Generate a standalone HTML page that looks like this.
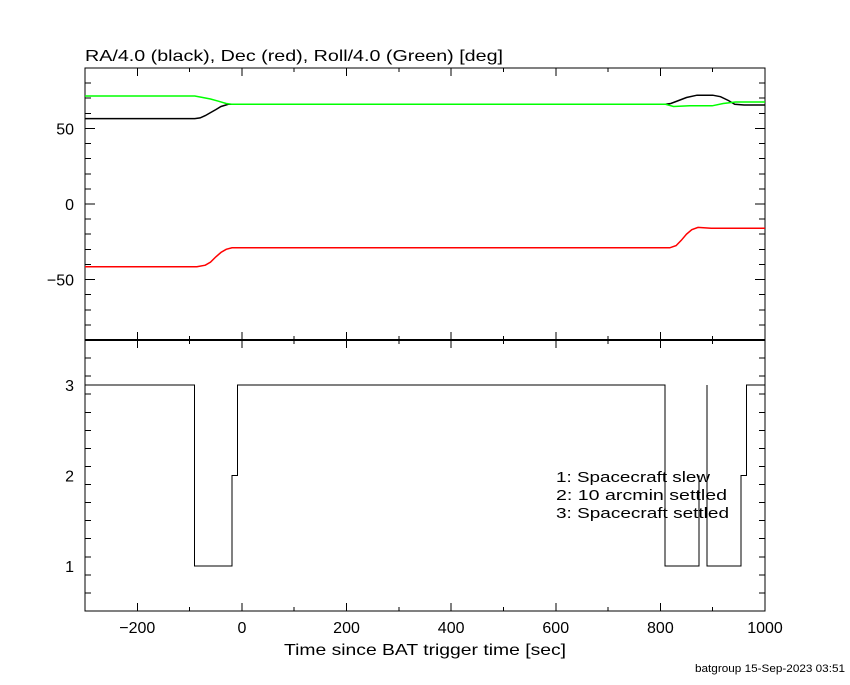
<!DOCTYPE html>
<html><head><meta charset="utf-8"><style>
body{margin:0;background:#fff;}
svg text{font-family:"Liberation Sans",sans-serif;fill:#000;}
</style></head><body>
<svg id="c" width="850" height="680" xmlns="http://www.w3.org/2000/svg">
<text x="85" y="61" font-size="16" textLength="418" lengthAdjust="spacingAndGlyphs">RA/4.0 (black), Dec (red), Roll/4.0 (Green) [deg]</text>
<text x="284" y="655" font-size="16" textLength="282" lengthAdjust="spacingAndGlyphs">Time since BAT trigger time [sec]</text>
<text x="695" y="672" font-size="11" textLength="150" lengthAdjust="spacingAndGlyphs">batgroup 15-Sep-2023 03:51</text>
<g font-size="15">
<text x="556" y="482" textLength="154" lengthAdjust="spacingAndGlyphs">1: Spacecraft slew</text>
<text x="556" y="500" textLength="171" lengthAdjust="spacingAndGlyphs">2: 10 arcmin settled</text>
<text x="556" y="518" textLength="173" lengthAdjust="spacingAndGlyphs">3: Spacecraft settled</text>
</g>
</svg>
<script>
const raT=[-300,-90,-80,-70,-60,-50,-40,-26,810,820,835,850,870,900,915,930,942,960,1000];
const raV=[56.5,56.5,57,58.5,60.5,62.5,64.5,66,66,66.5,68.5,70.5,72,72,71,68.5,66,65.5,65.5];
const rollT=[-300,-90,-75,-60,-45,-30,-20,810,825,856,899,920,944,1000];
const rollV=[71.5,71.5,70.5,69.5,68,66.5,66,66,64.5,65,65,66.5,67.5,67.5];
const decT=[-300,-86,-70,-60,-50,-40,-30,-19,818,830,840,850,860,872,897,1000];
const decV=[-41.5,-41.5,-40.5,-38.5,-35,-32,-30,-29,-29,-27.5,-24,-20,-17,-15.5,-16,-16];
const stT=[-300,-91,-91,-19,-19,-8,-8,809,809,874,874,null,889,889,954,954,965,965,1000];
const stV=[3,3,1,1,2,2,3,3,1,1,2,null,3,1,1,2,2,3,3];
const xTicks=[-200,0,200,400,600,800,1000];
const yTopTicks=[-50,0,50];
const yBotTicks=[1,2,3];
const NS='http://www.w3.org/2000/svg';
const svg=document.getElementById('c');
const L=85,R=765,T1=68,B1=340,T2=340,B2=611;
const X=v=>L+(v+300)/1300*(R-L);
const Y1=v=>T1+(90-v)/180*(B1-T1);
const Y2=v=>T2+(3.5-v)/3*(B2-T2);
function el(tag,attrs){const e=document.createElementNS(NS,tag);for(const k in attrs)e.setAttribute(k,attrs[k]);svg.appendChild(e);return e;}
function line(x1,y1,x2,y2){return el('line',{x1,y1,x2,y2,stroke:'#000','stroke-width':1,'shape-rendering':'crispEdges'});}
const f1=el('rect',{x:L,y:T1,width:R-L,height:B1-T1,fill:'none',stroke:'#000','stroke-width':1,'shape-rendering':'crispEdges'});


const f2=el('rect',{x:L,y:T2,width:R-L,height:B2-T2,fill:'none',stroke:'#000','stroke-width':1,'shape-rendering':'crispEdges'});


const sep=el('line',{x1:L,y1:340,x2:R,y2:340,stroke:'#000','stroke-width':2});


for(let v=-300;v<=1000;v+=100){
  const major=v%200===0;const len=major?8:4;const x=X(v);
  line(x,T1,x,T1+len);line(x,B1,x,B1-len);line(x,T2,x,T2+len);line(x,B2,x,B2-len);
}
xTicks.forEach(v=>{
  const t=el('text',{x:X(v),y:633,'font-size':16,'text-anchor':'middle'});
  t.textContent=(v<0?'\u2212':'')+Math.abs(v);
  
  
});
for(let v=-90;v<=90;v+=10){const y=Y1(v);const len=v%50===0?10:6;line(L,y,L+len,y);line(R,y,R-len,y);}
yTopTicks.forEach(v=>{
  const t=el('text',{x:74,y:Y1(v)+6,'font-size':16,'text-anchor':'end'});
  t.textContent=(v<0?'\u2212':'')+Math.abs(v);
  
  
});
for(let i=0;i<=15;i++){const v=0.5+i*0.2;if(v>3.5)break;const y=Y2(v);const len=Math.abs(v-Math.round(v))<1e-6?10:6;line(L,y,L+len,y);line(R,y,R-len,y);}
yBotTicks.forEach(v=>{
  const t=el('text',{x:74,y:Y2(v)+6,'font-size':16,'text-anchor':'end'});
  t.textContent=v;
  
  
});
function path(ts,vs,Y){let d='',pen=false;for(let i=0;i<ts.length;i++){if(ts[i]===null){pen=false;continue;}d+=(pen?'L':'M')+X(ts[i]).toFixed(1)+','+Y(vs[i]).toFixed(1);pen=true;}return d;}
const pr=el('path',{d:path(raT,raV,Y1),fill:'none',stroke:'#000','stroke-width':1.5});


const pg=el('path',{d:path(rollT,rollV,Y1),fill:'none',stroke:'#00ff00','stroke-width':1.5});


const pd=el('path',{d:path(decT,decV,Y1),fill:'none',stroke:'#ff0000','stroke-width':1.5});


const ps=el('path',{d:path(stT,stV,Y2),fill:'none',stroke:'#000','stroke-width':1,'shape-rendering':'crispEdges'});


</script>
</body></html>
